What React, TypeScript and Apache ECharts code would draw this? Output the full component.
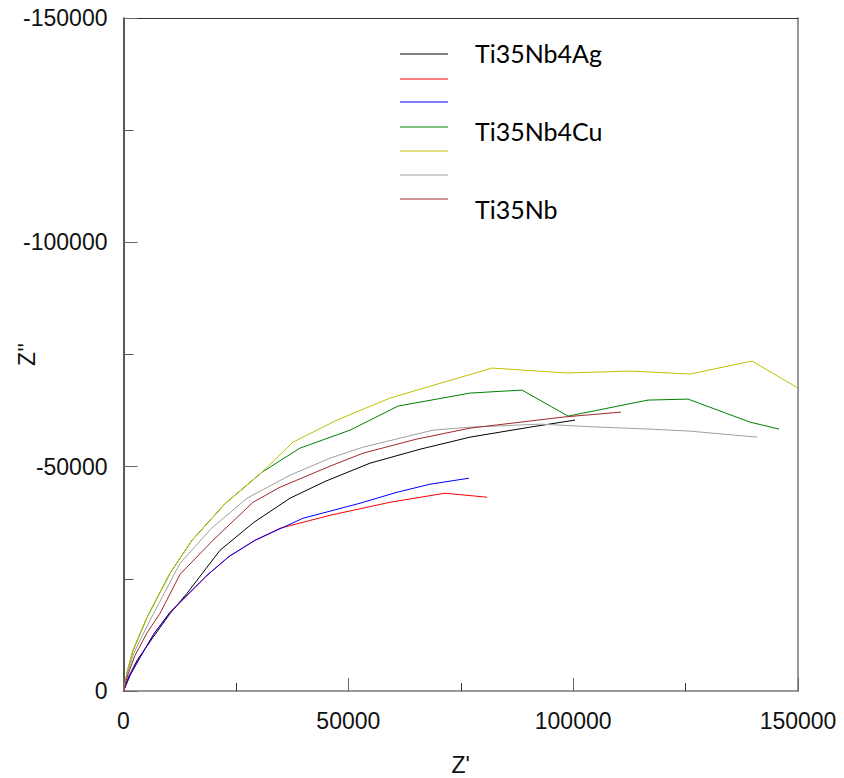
import React, { useEffect, useRef } from "react";
import * as echarts from "echarts";

const seriesNames = ["Ti35Nb4Ag", "", "", "Ti35Nb4Cu", "", "", "Ti35Nb"];
const seriesColors = ["#000000", "#ff0000", "#0000ff", "#008000", "#c0c000", "#a0a0a0", "#a02828"];

const ti35nb4ag: number[][] = [
  [0, 0], [1200, -3300], [3000, -6800], [6560, -11940], [10300, -17200], [14120, -21760],
  [21460, -31360], [29000, -37600], [37030, -42970], [44800, -46700], [54820, -50780],
  [66000, -53900], [77060, -56580], [90410, -58810], [100410, -60380],
];
const redSeries: number[][] = [
  [0, 0], [1500, -3600], [3670, -7480], [6800, -12800], [10340, -17520], [18570, -25780],
  [23500, -30000], [29250, -33590], [34810, -36270], [45930, -39170], [59270, -42070],
  [71500, -44080], [80840, -43190],
];
const blueSeries: number[][] = [
  [0, 0], [1500, -3600], [3670, -7480], [6800, -12800], [10340, -17520], [18570, -25780],
  [23500, -30000], [29250, -33590], [39920, -38500], [52600, -41850], [60830, -44300],
  [68170, -46090], [76840, -47430],
];
const ti35nb4cu: number[][] = [
  [0, 0], [800, -4200], [2110, -9040], [5230, -16400], [10340, -26230], [15230, -33590],
  [22570, -41740], [30800, -48770], [39250, -54130], [50370, -58140], [61050, -63500],
  [77060, -66400], [88630, -67070], [98860, -61270], [116650, -64840], [125550, -65060],
  [139330, -59930], [145780, -58370],
];
const yellowSeries: number[][] = [
  [0, 0], [800, -4200], [2110, -9040], [5230, -16400], [10340, -26230], [15230, -33590],
  [22570, -41740], [30800, -48770], [37700, -55470], [47480, -60380], [59270, -65290],
  [81960, -71980], [98640, -70870], [112650, -71310], [125990, -70640], [139780, -73540],
  [150000, -67520],
];
const graySeries: number[][] = [
  [0, 0], [900, -4000], [2340, -8590], [5890, -15740], [12570, -28460], [19500, -36200],
  [27470, -42970], [37030, -48100], [45930, -51890], [53270, -54350], [68830, -58140],
  [77060, -58810], [92630, -59480], [105970, -58810], [117090, -58370], [125990, -57920],
  [140890, -56580],
];
const ti35nb: number[][] = [
  [0, 0], [1000, -3700], [2560, -7920], [5200, -12900], [8120, -17300], [12570, -26000],
  [19900, -33590], [28800, -42070], [34810, -45420], [45930, -50110], [53270, -53010],
  [65000, -56100], [77060, -58590], [97750, -61050], [110640, -62160],
];
const seriesData = [ti35nb4ag, redSeries, blueSeries, ti35nb4cu, yellowSeries, graySeries, ti35nb];

const xTickLabels = ["0", "50000", "100000", "150000"];
const yTickLabels = ["-150000", "-100000", "-50000", "0"];

export default function App() {
  const ref = useRef<HTMLDivElement>(null);
  useEffect(() => {
    document.body.style.margin = "0";
    const chart = echarts.init(ref.current!, null, { renderer: "svg" });
    const font = "Liberation Sans";
    const labelStyle = { fontFamily: font, fontSize: 23, color: "#111" };
    const legendRows = [54, 79, 102, 127, 151, 175, 199];
    const legendTextY = [53, 0, 0, 131, 0, 0, 209];
    const graphics: any[] = [];
    seriesNames.forEach((n, i) => {
      graphics.push({
        type: "line",
        shape: { x1: 400, y1: legendRows[i], x2: 448, y2: legendRows[i] },
        style: { stroke: seriesColors[i], lineWidth: 1 },
      });
      if (n) {
        graphics.push({
          type: "text",
          x: 475,
          y: legendTextY[i],
          style: { text: n, fontFamily: "Lato", fontSize: 25, fill: "#000", textVerticalAlign: "middle", verticalAlign: "middle" },
        });
      }
    });
    const grid = { left: 123.5, top: 18, right: 46, bottom: 87, containLabel: false, outerBoundsMode: "none" };
    const noLine = { show: true, onZero: false };
    chart.setOption({
      animation: false,
      grid,
      graphic: graphics,
      xAxis: [
        {
          type: "value", min: 0, max: 150000, interval: 25000, position: "bottom",
          name: "Z'", nameLocation: "middle", nameGap: 62, nameMoveOverlap: false,
          nameTextStyle: { fontFamily: font, fontSize: 23, color: "#111" },
          axisLine: { ...noLine, lineStyle: { color: "#777", width: 1.5 } },
          axisTick: { show: true, inside: true, length: 8, lineStyle: { color: "#333" } },
          axisLabel: {
            ...labelStyle, margin: 18,
            formatter: (v: number) => (v % 50000 === 0 ? xTickLabels[v / 50000] : ""),
          },
          splitLine: { show: false },
        },
        {
          type: "value", min: 0, max: 150000, interval: 50000, position: "bottom",
          axisLine: { show: false, onZero: false },
          axisTick: { show: true, inside: true, length: 13, lineStyle: { color: "#666" } },
          axisLabel: { show: false }, splitLine: { show: false },
        },
        {
          type: "value", min: 0, max: 150000, position: "top",
          axisLine: { ...noLine, lineStyle: { color: "#333", width: 1 } },
          axisTick: { show: false }, axisLabel: { show: false }, splitLine: { show: false },
        },
      ],
      yAxis: [
        {
          type: "value", min: -150000, max: 0, interval: 25000, inverse: true, position: "left",
          name: "Z''", nameLocation: "middle", nameGap: 85, nameMoveOverlap: false,
          nameTextStyle: { fontFamily: font, fontSize: 23, color: "#111" },
          axisLine: { ...noLine, lineStyle: { color: "#222", width: 1.5 } },
          axisTick: { show: true, inside: true, length: 10, lineStyle: { color: "#555" } },
          axisLabel: {
            ...labelStyle, margin: 16,
            formatter: (v: number) => (v % 50000 === 0 ? yTickLabels[(v + 150000) / 50000] : ""),
          },
          splitLine: { show: false },
        },
        {
          type: "value", min: -150000, max: 0, interval: 50000, inverse: true, position: "left",
          axisLine: { show: false, onZero: false },
          axisTick: { show: true, inside: true, length: 14, lineStyle: { color: "#666" } },
          axisLabel: { show: false }, splitLine: { show: false },
        },
        {
          type: "value", min: -150000, max: 0, inverse: true, position: "right",
          axisLine: { ...noLine, lineStyle: { color: "#777", width: 1.5 } },
          axisTick: { show: false }, axisLabel: { show: false }, splitLine: { show: false },
        },
      ],
      series: seriesData.map((d, i) => ({
        type: "line",
        name: seriesNames[i] || "series" + i,
        data: d,
        xAxisIndex: 0,
        yAxisIndex: 0,
        showSymbol: false,
        symbol: "none",
        clip: true,
        lineStyle: { color: seriesColors[i], width: 1 },
        itemStyle: { color: seriesColors[i] },
        z: 2,
      })),
    });
    return () => chart.dispose();
  }, []);
  return <div ref={ref} style={{ width: 844, height: 778 }} />;
}
